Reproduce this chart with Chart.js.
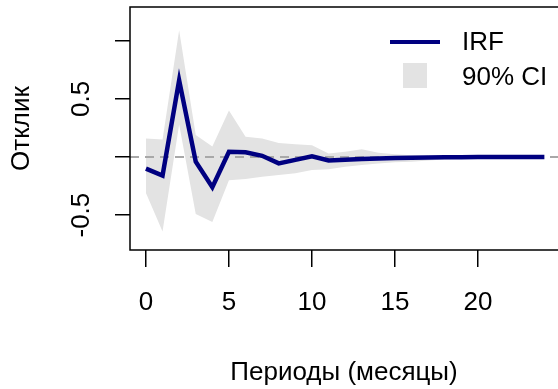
<!DOCTYPE html>
<html>
<head>
<meta charset="utf-8">
<script src="https://cdn.jsdelivr.net/npm/chart.js@4.4.1/dist/chart.umd.min.js"></script>
<style>
  html, body { margin: 0; padding: 0; background: #fff; }
  #wrap { width: 558px; height: 389px; }
</style>
</head>
<body>
<div id="wrap"><canvas id="irfChart" width="558" height="389"></canvas></div>
<script>
// periods (months) and impulse response with 90% band
const periods = [0, 1, 2, 3, 4, 5, 6, 7, 8, 9, 10, 11, 12, 13, 14, 15, 16, 17, 18, 19, 20, 21, 22, 23, 24];
const irf = [-0.10, -0.16, 0.66, -0.04, -0.26, 0.045, 0.04, 0.01, -0.055, -0.025, 0.005, -0.03, -0.023,
             -0.017, -0.012, -0.008, -0.006, -0.004, -0.003, -0.002, -0.001, -0.001, 0, 0, 0];
const ciUpper = [0.16, 0.15, 1.09, 0.19, 0.09, 0.40, 0.175, 0.16, 0.12, 0.11, 0.10, 0.03, 0.046,
                 0.066, 0.037, 0.023, 0.015, 0.01, 0.008, 0.006, 0.005, 0.004, 0.003, 0.002, 0.002];
const ciLower = [-0.31, -0.64, 0.28, -0.49, -0.56, -0.20, -0.19, -0.17, -0.155, -0.14, -0.112, -0.106, -0.083,
                 -0.069, -0.055, -0.046, -0.04, -0.03, -0.022, -0.016, -0.012, -0.01, -0.008, -0.006, -0.005];
const xTicks = [0, 5, 10, 15, 20];
const yTicks = [-0.5, 0, 0.5, 1];
const yLabels = ['-0.5', '', '0.5', ''];

const FONT = 'Liberation Sans, Arial, sans-serif';
const NAVY = '#000080';
const BAND = '#e3e3e3';

const pts = (arr) => arr.map((v, i) => ({ x: periods[i], y: v }));

// zero reference line, box and legend
const decor = {
  id: 'decor',
  beforeDatasetDraw(chart, args) {
    if (args.index !== 0) return;
    const { ctx, chartArea } = chart;
    const y0 = chart.scales.y.getPixelForValue(0);
    ctx.save();
    ctx.strokeStyle = '#a8a8a8';
    ctx.lineWidth = 2;
    ctx.setLineDash([9, 6]);
    ctx.beginPath();
    ctx.moveTo(chartArea.left, y0);
    ctx.lineTo(chartArea.right, y0);
    ctx.stroke();
    ctx.restore();
  },
  afterDraw(chart) {
    const { ctx, chartArea } = chart;
    ctx.save();
    ctx.strokeStyle = '#000';
    ctx.lineWidth = 1.5;
    ctx.strokeRect(chartArea.left, chartArea.top, chartArea.right - chartArea.left + 5, chartArea.bottom - chartArea.top);

    // legend
    ctx.strokeStyle = NAVY;
    ctx.lineWidth = 4;
    ctx.beginPath();
    ctx.moveTo(390, 42);
    ctx.lineTo(440, 42);
    ctx.stroke();
    ctx.fillStyle = BAND;
    ctx.fillRect(403, 63, 24, 25);
    ctx.fillStyle = '#000';
    ctx.font = '26px ' + FONT;
    ctx.textBaseline = 'middle';
    ctx.textAlign = 'left';
    ctx.fillText('IRF', 462, 43);
    ctx.fillText('90% CI', 462, 78);
    ctx.restore();
  }
};

new Chart(document.getElementById('irfChart'), {
  type: 'line',
  data: {
    datasets: [
      {
        label: 'IRF',
        data: pts(irf),
        borderColor: NAVY,
        borderWidth: 4.5,
        pointRadius: 0,
        tension: 0,
        fill: false
      },
      {
        label: '90% CI',
        data: pts(ciUpper),
        borderWidth: 0,
        borderColor: 'rgba(0,0,0,0)',
        backgroundColor: BAND,
        pointRadius: 0,
        tension: 0,
        fill: '+1'
      },
      {
        label: 'lower',
        data: pts(ciLower),
        borderWidth: 0,
        borderColor: 'rgba(0,0,0,0)',
        pointRadius: 0,
        tension: 0,
        fill: false
      }
    ]
  },
  options: {
    responsive: false,
    animation: false,
    layout: { padding: { top: 7, right: 0, left: 0, bottom: 0 } },
    plugins: { legend: { display: false }, tooltip: { enabled: false } },
    scales: {
      x: {
        type: 'linear',
        min: -0.96,
        max: 24.82,
        afterBuildTicks: (s) => { s.ticks = xTicks.map(v => ({ value: v })); },
        afterFit: (s) => { s.height = 139; s.paddingLeft = 0; s.paddingRight = 0; },
        border: { display: false },
        grid: { drawOnChartArea: false, drawTicks: true, tickLength: 17, color: '#000', lineWidth: 1.5 },
        ticks: { color: '#000', font: { family: FONT, size: 26 }, padding: 20, maxRotation: 0 },
        title: { display: true, text: 'Периоды (месяцы)', color: '#000', font: { family: FONT, size: 26 }, padding: { top: 0, bottom: 1 } }
      },
      y: {
        min: -0.80,
        max: 1.29,
        afterBuildTicks: (s) => { s.ticks = yTicks.map(v => ({ value: v })); },
        afterFit: (s) => { s.width = 130; s.paddingTop = 0; s.paddingBottom = 0; },
        border: { display: false },
        grid: { drawOnChartArea: false, drawTicks: true, tickLength: 15, color: '#000', lineWidth: 1.5 },
        ticks: {
          color: '#000', font: { family: FONT, size: 26 }, padding: 11,
          minRotation: 90, maxRotation: 90, crossAlign: 'center',
          callback: (v, i) => yLabels[i]
        },
        title: { display: true, text: 'Отклик', color: '#000', font: { family: FONT, size: 26 }, padding: { top: 6, bottom: 0 } }
      }
    }
  },
  plugins: [decor]
});
</script>
</body>
</html>
